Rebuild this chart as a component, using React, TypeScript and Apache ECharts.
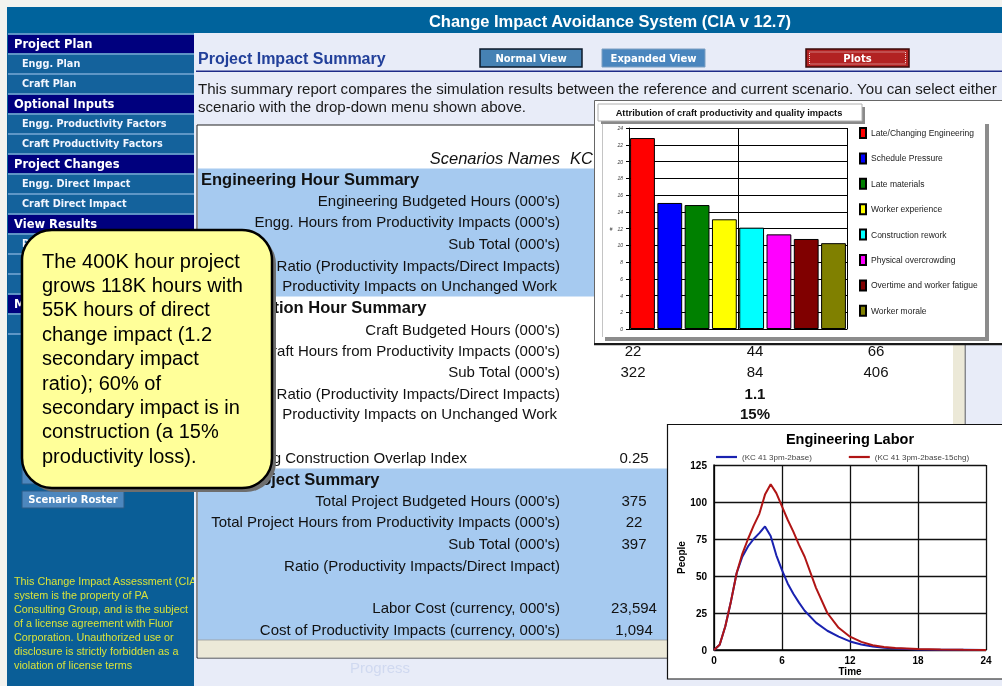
import React, { useEffect, useRef } from "react";
import * as echarts from "echarts";

// ---------------- data ----------------
const appTitle = "Change Impact Avoidance System (CIA v 12.7)";
const pageTitle = "Project Impact Summary";
const viewButtons = ["Normal View", "Expanded View", "Plots"];
const descLines = [
  "This summary report compares the simulation results between the reference and current scenario. You can select either",
  "scenario with the drop-down menu shown above.",
];
const menuLabels = [
  "Project Plan", "Engg. Plan", "Craft Plan", "Optional Inputs", "Engg. Productivity Factors",
  "Craft Productivity Factors", "Project Changes", "Engg. Direct Impact", "Craft Direct Impact",
  "View Results", "Pr", "", "", "M", "",
];
const menuIsHeader = [true, false, false, true, false, false, true, false, false, true, false, false, false, true, false];
const legalLines = [
  "This Change Impact Assessment (CIA)",
  "system is the property of PA",
  "Consulting Group, and is the subject",
  "of a license agreement with Fluor",
  "Corporation. Unauthorized use or",
  "disclosure is strictly forbidden as a",
  "violation of license terms",
];
const calloutLines = [
  "The 400K hour project",
  "grows 118K hours with",
  "55K hours of direct",
  "change impact (1.2",
  "secondary impact",
  "ratio); 60% of",
  "secondary impact is in",
  "construction (a 15%",
  "productivity loss).",
];

const sectionTitles = ["Engineering Hour Summary", "Construction Hour Summary", "Total Project Summary"];
const engLabels = [
  "Engineering Budgeted Hours (000's)",
  "Engg. Hours from Productivity Impacts (000's)",
  "Sub Total (000's)",
  "Ratio (Productivity Impacts/Direct Impacts)",
  "Productivity Impacts on Unchanged Work",
];
const constLabels = [
  "Craft Budgeted Hours (000's)",
  "Craft Hours from Productivity Impacts (000's)",
  "Sub Total (000's)",
  "Ratio (Productivity Impacts/Direct Impacts)",
  "Productivity Impacts on Unchanged Work",
];
const constCol1 = ["", "22", "322", "", ""];
const constCol2 = ["", "44", "84", "1.1", "15%"];
const constCol3 = ["", "66", "406", "", ""];
const overlapLabel = "Engineering Construction Overlap Index";
const overlapValue = "0.25";
const totalLabels = [
  "Total Project Budgeted Hours (000's)",
  "Total Project Hours from Productivity Impacts (000's)",
  "Sub Total (000's)",
  "Ratio (Productivity Impacts/Direct Impact)",
  "Labor Cost (currency, 000's)",
  "Cost of Productivity Impacts (currency, 000's)",
];
const totalCol1 = ["375", "22", "397", "", "23,594", "1,094"];

const barTitle = "Attribution of craft productivity and quality impacts";
const barCategories = [
  "Late/Changing Engineering",
  "Schedule Pressure",
  "Late materials",
  "Worker experience",
  "Construction rework",
  "Physical overcrowding",
  "Overtime and worker fatigue",
  "Worker morale",
];
const barValues = [22.8, 15.05, 14.8, 13.1, 12.1, 11.3, 10.75, 10.25];
const barColors = ["#FF0000", "#0000FF", "#008000", "#FFFF00", "#00FFFF", "#FF00FF", "#800000", "#808000"];

const lineTitle = "Engineering Labor";
const lineNames = ["(KC 41 3pm-2base)", "(KC 41 3pm-2base-15chg)"];
const times = [0, 0.5, 1, 1.5, 2, 2.5, 3, 3.5, 4, 4.5, 5, 5.5, 6, 6.5, 7, 7.5, 8, 9, 10, 11, 12, 13, 14, 15, 16, 18, 20, 22, 24];
const baseLabor = [0, 3.5, 16, 33, 52, 63, 70, 75, 79, 83.5, 77, 64, 54, 45, 38, 32, 26.5, 18.5, 13, 9, 5.8, 3.7, 2.3, 1.5, 1, 0.4, 0.2, 0.1, 0];
const chgLabor = [0, 3.5, 16, 33, 52, 65, 75, 84, 92, 105, 112, 106, 97, 88, 80, 71, 63, 42, 25, 15, 9, 5.5, 3.2, 2, 1.3, 0.7, 0.3, 0.1, 0];

// ---------------- helpers ----------------
const FA = "'Liberation Sans', Arial, Helvetica, sans-serif";
const FV = "'DejaVu Sans', Verdana, sans-serif";

function R(x: number, y: number, w: number, h: number, fill: string, z: number, z2 = 0, extra: any = {}) {
  const style: any = { fill };
  if (extra.stroke) { style.stroke = extra.stroke; style.lineWidth = extra.lw ?? 1; }
  if (extra.dash) style.lineDash = extra.dash;
  return { type: "rect", silent: true, z, z2, shape: { x, y, width: w, height: h, r: extra.r ?? 0 }, style };
}
function T(x: number, y: number, text: string, font: string, fill: string, align: string, z: number, z2 = 5) {
  return {
    type: "text", silent: true, z, z2, x, y,
    style: { text, font, fill, textAlign: align, textVerticalAlign: "middle", verticalAlign: "middle" },
  };
}
function L(x1: number, y1: number, x2: number, y2: number, stroke: string, lw: number, z: number, z2 = 1) {
  return { type: "line", silent: true, z, z2, shape: { x1, y1, x2, y2 }, style: { stroke, lineWidth: lw } };
}

function buildGraphics() {
  const g: any[] = [];
  // page and frame
  g.push(R(0, 0, 1002, 686, "#F3F3EF", 0, 0));
  g.push(R(7, 7, 995, 26, "#00639C", 0, 1));
  g.push(T(610, 20.5, appTitle, `bold 16.5px ${FA}`, "#ffffff", "center", 0, 2));
  g.push(R(7, 33, 187, 653, "#0A5E97", 0, 1));

  // sidebar menu
  menuLabels.forEach((lab, k) => {
    const top = 33.3 + 20 * k;
    const hd = menuIsHeader[k];
    g.push(R(8, top, 186, 1.4, "#7BAAD6", 1, 1));
    g.push(R(8, top + 1.4, 186, 18.6, hd ? "#00007E" : "#14629C", 1, 0));
    if (lab) {
      g.push(hd
        ? T(14, top + 10.6, lab, `bold 11.5px ${FV}`, "#ffffff", "left", 1, 2)
        : T(22, top + 10.6, lab, `bold 9.7px ${FV}`, "#F2F6FF", "left", 1, 2));
    }
  });
  g.push(R(8, 33.3 + 20 * menuLabels.length, 186, 1.4, "#7BAAD6", 1, 1));

  // sidebar buttons
  g.push(R(22, 467, 102, 17, "#4D87BE", 1, 0, { stroke: "#2B5A86", lw: 1 }));
  g.push(R(22, 491, 102, 17, "#4D87BE", 1, 0, { stroke: "#2B5A86", lw: 1 }));
  g.push(T(73, 499.8, "Scenario Roster", `bold 10px ${FV}`, "#ffffff", "center", 1, 2));

  // legal notice
  legalLines.forEach((ln, i) => {
    g.push(T(14, 581 + 14 * i, ln, `10.8px ${FA}`, "#D8E23A", "left", 1, 2));
  });

  // main area background
  g.push(R(194, 33, 808, 653, "#E8ECF8", 2, 0));
  g.push(T(380, 667, "Progress", `15px ${FA}`, "#D0D9F0", "center", 2, 1));

  // header
  g.push(T(198, 58, pageTitle, `bold 16px ${FA}`, "#22409A", "left", 3, 2));
  g.push(R(196, 70.5, 806, 1.6, "#1E2B88", 3, 1));
  g.push(R(480, 49, 102, 18, "#4682B4", 3, 1, { stroke: "#0D1A2A", lw: 1.5 }));
  g.push(T(531, 58.3, viewButtons[0], `bold 10px ${FV}`, "#ffffff", "center", 3, 2));
  g.push(R(602, 49, 103, 18, "#4A86BE", 3, 1, { stroke: "#7D9FC2", lw: 1 }));
  g.push(T(653.5, 58.3, viewButtons[1], `bold 10px ${FV}`, "#ffffff", "center", 3, 2));
  g.push(R(806, 49, 103, 18, "#B22222", 3, 1, { stroke: "#3A0A0A", lw: 1.5 }));
  g.push(R(809.5, 52, 96, 12, "none", 3, 2, { stroke: "#ffffff", lw: 0.8, dash: [1, 1] }));
  g.push(T(857.5, 58.3, viewButtons[2], `bold 10px ${FV}`, "#ffffff", "center", 3, 3));
  g.push(T(198, 88, descLines[0], `15.1px ${FA}`, "#1A1A1A", "left", 3, 2));
  g.push(T(198, 106, descLines[1], `15.1px ${FA}`, "#1A1A1A", "left", 3, 2));

  // table panel
  g.push(R(197, 125, 768, 533, "#ffffff", 3, 0, { stroke: "#222", lw: 1 }));
  g.push(R(198, 168.5, 755, 128, "#A6CAF0", 3, 1));
  g.push(R(198, 468.5, 755, 171.5, "#A6CAF0", 3, 1));
  g.push(R(198, 640, 755, 17.5, "#ECE9D8", 3, 1));
  g.push(R(953, 125.5, 11.5, 532, "#ECE9D8", 3, 1));
  g.push(L(198, 640, 953, 640, "#9a9a9a", 0.8, 3, 2));

  const f15 = `15px ${FA}`;
  const b15 = `bold 15px ${FA}`;
  const h16 = `bold 16.5px ${FA}`;
  g.push(T(560, 158, "Scenarios Names", `italic 16.5px ${FA}`, "#111", "right", 3, 2));
  g.push(T(570, 158, "KC", `italic 16.5px ${FA}`, "#111", "left", 3, 2));

  g.push(T(201, 179, sectionTitles[0], h16, "#111", "left", 3, 2));
  const engY = [200, 221, 243, 265, 285];
  engLabels.forEach((lab, i) => {
    g.push(T(i === 4 ? 557 : 560, engY[i], lab, f15, "#111", "right", 3, 2));
  });

  g.push(T(201, 307, sectionTitles[1], h16, "#111", "left", 3, 2));
  const conY = [329, 350, 371, 393, 413];
  constLabels.forEach((lab, i) => {
    g.push(T(i === 4 ? 557 : 560, conY[i], lab, f15, "#111", "right", 3, 2));
    const bold = i >= 3;
    if (constCol1[i]) g.push(T(633, conY[i], constCol1[i], bold ? b15 : f15, "#111", "center", 3, 2));
    if (constCol2[i]) g.push(T(755, conY[i], constCol2[i], bold ? b15 : f15, "#111", "center", 3, 2));
    if (constCol3[i]) g.push(T(876, conY[i], constCol3[i], bold ? b15 : f15, "#111", "center", 3, 2));
  });

  g.push(T(201, 457, overlapLabel, f15, "#111", "left", 3, 2));
  g.push(T(634, 457, overlapValue, f15, "#111", "center", 3, 2));

  g.push(T(201, 479, sectionTitles[2], h16, "#111", "left", 3, 2));
  const totY = [500, 521, 543, 565, 607, 629];
  totalLabels.forEach((lab, i) => {
    g.push(T(560, totY[i], lab, f15, "#111", "right", 3, 2));
    if (totalCol1[i]) g.push(T(634, totY[i], totalCol1[i], f15, "#111", "center", 3, 2));
  });

  // bar chart panel
  g.push(R(594.5, 100.5, 420, 244, "#ffffff", 4, 0, { stroke: "#666", lw: 1 }));
  g.push(R(594, 343, 408, 2.2, "#1a1a1a", 4, 1));
  g.push(L(602.5, 121, 602.5, 337, "#c4c4c4", 1, 4, 1));
  g.push(R(985, 124, 4, 217, "#8C8C8C", 4, 1));
  g.push(R(605, 337, 384, 4, "#8C8C8C", 4, 1));
  g.push(R(601, 107, 264, 17, "#8A8A8A", 4, 2));
  g.push(R(598, 104, 264, 17, "#ffffff", 4, 3, { stroke: "#b0b0b0", lw: 1 }));
  g.push(T(729, 112.8, barTitle, `bold 9.3px ${FA}`, "#111", "center", 4, 4));

  // line chart panel
  g.push(R(667.5, 424.5, 400, 254.5, "#ffffff", 7, 0, { stroke: "#111", lw: 1.2 }));
  g.push(T(850, 439, lineTitle, `bold 14.5px ${FA}`, "#000", "center", 7, 2));

  // callout
  g.push(R(26, 234, 250, 258, "#6E6E6E", 10, 0, { r: 30 }));
  g.push(R(22, 230, 250, 258, "#FFFF99", 10, 1, { r: 30, stroke: "#000", lw: 2.5 }));
  calloutLines.forEach((ln, i) => {
    g.push(T(42, 260.5 + 24.4 * i, ln, `20px ${FA}`, "#000", "left", 10, 2));
  });
  return g;
}

function buildOption() {
  const barSeries = barCategories.map((name, i) => ({
    name,
    type: "bar",
    xAxisIndex: 0,
    yAxisIndex: 0,
    data: [barValues[i]],
    barGap: "10%",
    barCategoryGap: "1%",
    itemStyle: { color: barColors[i], borderColor: "#000", borderWidth: 1 },
    z: 6,
  }));
  const lineColors = ["#1A22B0", "#B01515"];
  const lineSeries = [baseLabor, chgLabor].map((arr, i) => ({
    name: lineNames[i],
    type: "line",
    xAxisIndex: 2,
    yAxisIndex: 1,
    data: times.map((t, j) => [t, arr[j]]),
    showSymbol: false,
    symbol: "none",
    lineStyle: { color: lineColors[i], width: 2 },
    itemStyle: { color: lineColors[i] },
    z: 9,
  }));
  return {
    animation: false,
    textStyle: { fontFamily: FA },
    graphic: { elements: buildGraphics() },
    grid: [
      { left: 629, top: 128, width: 218, height: 201, show: false },
      { left: 714, top: 465, width: 272, height: 185, show: false },
    ],
    legend: [
      {
        data: barCategories,
        orient: "vertical",
        left: 859,
        top: 127,
        padding: 0,
        itemWidth: 6,
        itemHeight: 10,
        itemGap: 13.4,
        icon: "rect",
        textStyle: { fontSize: 8.5, color: "#222", fontFamily: FA },
        selectedMode: false,
        z: 6,
      },
      {
        data: lineNames,
        left: 716,
        top: 453,
        padding: 0,
        itemWidth: 21,
        itemHeight: 2.2,
        icon: "rect",
        itemGap: 37,
        textStyle: { fontSize: 8, color: "#444", fontFamily: FA },
        selectedMode: false,
        z: 9,
      },
    ],
    xAxis: [
      {
        type: "category", gridIndex: 0, data: [""],
        axisLine: { lineStyle: { color: "#000", width: 1 } },
        axisTick: { show: false }, axisLabel: { show: false }, splitLine: { show: false },
        z: 5,
      },
      {
        type: "value", gridIndex: 0, min: 0, max: 2, interval: 1, position: "bottom",
        axisLine: { show: false }, axisTick: { show: false }, axisLabel: { show: false },
        splitLine: { show: true, lineStyle: { color: "#000", width: 1 } },
        z: 5,
      },
      {
        type: "value", gridIndex: 1, min: 0, max: 24, interval: 6,
        axisLine: { lineStyle: { color: "#000", width: 1.5 } },
        axisTick: { show: false },
        axisLabel: { fontSize: 10, fontWeight: "bold", color: "#000", margin: 5, fontFamily: FA },
        splitLine: { show: true, lineStyle: { color: "#111", width: 1.3 } },
        name: "Time", nameLocation: "middle", nameGap: 16,
        nameTextStyle: { fontSize: 10, fontWeight: "bold", color: "#000", fontFamily: FA },
        z: 8,
      },
    ],
    yAxis: [
      {
        type: "value", gridIndex: 0, min: 0, max: 24, interval: 2,
        axisLine: { show: true, lineStyle: { color: "#000", width: 1 } },
        axisTick: { show: true, length: 3, lineStyle: { color: "#000" } },
        axisLabel: { fontSize: 5, fontStyle: "italic", color: "#333", margin: 6, fontFamily: FA },
        splitLine: { show: true, lineStyle: { color: "#000", width: 1 } },
        name: "#", nameLocation: "middle", nameGap: 16, nameRotate: 0,
        nameTextStyle: { fontSize: 5, color: "#333" },
        z: 5,
      },
      {
        type: "value", gridIndex: 1, min: 0, max: 125, interval: 25,
        axisLine: { show: true, lineStyle: { color: "#000", width: 1.5 } },
        axisTick: { show: false },
        axisLabel: { fontSize: 10, fontWeight: "bold", color: "#000", margin: 7, fontFamily: FA },
        splitLine: { show: true, lineStyle: { color: "#111", width: 1.3 } },
        name: "People", nameLocation: "middle", nameGap: 28, nameRotate: 90,
        nameTextStyle: { fontSize: 10, fontWeight: "bold", color: "#000", fontFamily: FA },
        z: 8,
      },
    ],
    series: [...barSeries, ...lineSeries],
  };
}

export default function App() {
  const ref = useRef<HTMLDivElement>(null);
  useEffect(() => {
    if (!ref.current) return;
    const chart = echarts.init(ref.current, null, { renderer: "svg" });
    chart.setOption(buildOption() as any);
    return () => chart.dispose();
  }, []);
  return (
    <div
      ref={ref}
      style={{ position: "fixed", left: 0, top: 0, width: 1002, height: 686, margin: 0 }}
    />
  );
}
